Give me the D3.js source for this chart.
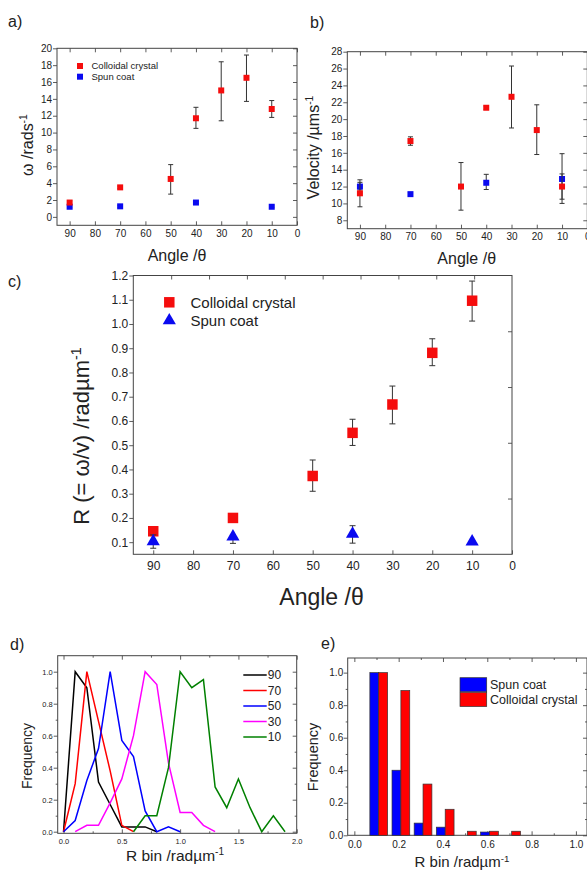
<!DOCTYPE html>
<html>
<head>
<meta charset="utf-8">
<script src="https://cdn.jsdelivr.net/npm/d3@7"></script>
<style>
  body { margin: 0; background: #fff; }
  text { font-family: "Liberation Sans", Arial, sans-serif; fill: #222; }
</style>
</head>
<body>
<svg id="fig"></svg>
<script>
// Angulos medidos (grados)
const anglesCC = [90, 70, 50, 40, 30, 20, 10];
const anglesSC = [90, 70, 40, 10];
const angleTicks = [90, 80, 70, 60, 50, 40, 30, 20, 10, 0];

// a) velocidad angular ω (rad/s)
const omegaCC = [1.7, 3.5, 4.5, 11.7, 15.0, 16.5, 12.8];
const omegaCCLow = [1.5, 3.35, 2.7, 10.5, 11.4, 13.7, 11.8];
const omegaCCHigh = [1.9, 3.65, 6.2, 13.0, 18.4, 19.2, 13.8];
const omegaSC = [1.2, 1.25, 1.7, 1.2];
const omegaSCLow = [1.1, 1.15, 1.6, 1.1];
const omegaSCHigh = [1.3, 1.35, 1.8, 1.3];
const omegaTicks = [0, 2, 4, 6, 8, 10, 12, 14, 16, 18, 20];

// b) velocidad (µm/s)
const velCC = [11.2, 17.4, 12.0, 21.35, 22.65, 18.7, 12.0];
const velCCLow = [9.6, 16.9, 9.2, 21.15, 18.95, 15.8, 10.0];
const velCCHigh = [12.8, 17.9, 14.85, 21.55, 26.3, 21.7, 13.5];
const velSC = [12.0, 11.1, 12.45, 12.9];
const velSCLow = [11.6, 10.9, 11.65, 10.5];
const velSCHigh = [12.5, 11.3, 13.45, 15.9];
const velTicks = [8, 10, 12, 14, 16, 18, 20, 22, 24, 26, 28];

// c) R = ω/v (rad/µm)
const rCC = [0.145, 0.2, 0.373, 0.551, 0.668, 0.881, 1.096];
const rCCLow = [0.135, 0.19, 0.31, 0.499, 0.588, 0.828, 1.012];
const rCCHigh = [0.155, 0.212, 0.439, 0.607, 0.744, 0.939, 1.177];
const rSC = [0.103, 0.123, 0.134, 0.102];
const rSCLow = [0.075, 0.095, 0.096, 0.098];
const rSCHigh = [0.13, 0.13, 0.168, 0.106];
const rTicks = [0.1, 0.2, 0.3, 0.4, 0.5, 0.6, 0.7, 0.8, 0.9, 1.0, 1.1, 1.2];
const cTopTicks = [90, 80, 70, 60, 50, 40, 30, 20, 10];
const cRightTicks = [0.2, 0.4, 0.6, 0.8];

// d) histogramas de R por angulo
const rBins = [0, 0.1, 0.2, 0.3, 0.4, 0.5, 0.6, 0.7, 0.8, 0.9, 1.0,
               1.1, 1.2, 1.3, 1.4, 1.5, 1.6, 1.7, 1.8, 1.9];
const freq90 = [0, 1.0, 0.9, 0.31, 0.17, 0.03, 0.03, 0.03, 0];
const freq70 = [0, 0.3, 1.0, 0.69, 0.38, 0.04, 0];
const freq50 = [0, 0.07, 0.32, 0.52, 1.0, 0.57, 0.47, 0.13, 0, 0.03, 0];
const freq30 = [null, 0, 0.04, 0.04, 0.18, 0.33, 0.6, 1.0, 0.92, 0.43, 0.12, 0.12, 0.04, 0];
const freq10 = [null, null, null, null, null, null, 0, 0.1, 0.1, 0.4, 1.0,
                0.9, 0.95, 0.28, 0.15, 0.33, 0.15, 0, 0.1, 0];
const dSeries = [
  { name: "90", values: freq90, color: "#000000" },
  { name: "70", values: freq70, color: "#ff0000" },
  { name: "50", values: freq50, color: "#0000ff" },
  { name: "30", values: freq30, color: "#ff00ff" },
  { name: "10", values: freq10, color: "#008000" }
];
const dXTicks = [0, 0.5, 1.0, 1.5, 2.0];
const freqTicks = [0, 0.2, 0.4, 0.6, 0.8, 1.0];

// e) histograma comparativo
const eBins = [0.1, 0.2, 0.3, 0.4, 0.5, 0.6, 0.7];
const freqSpun = [1.0, 0.4, 0.075, 0.05, 0, 0.02, 0];
const freqColloid = [1.0, 0.89, 0.315, 0.16, 0.025, 0.025, 0.025];
const eXTicks = [0, 0.2, 0.4, 0.6, 0.8, 1.0];

const svg = d3.select("#fig").attr("width", 587).attr("height", 871);
svg.append("rect").attr("width", 587).attr("height", 871).attr("fill", "#fff");

// Marco con ticks: izquierda hacia fuera, resto hacia dentro (estilo Origin)
function axes(x, y, o) {
  const [x0, x1] = x.range();
  const [y0, y1] = y.range();
  const g = svg.append("g").attr("color", "#333");

  const bottom = g.append("g").attr("transform", `translate(0,${y0})`)
    .call(d3.axisBottom(x).tickValues(o.xTicks).tickFormat(o.xFmt)
      .tickSize(-4).tickPadding(o.xPad));
  bottom.attr("font-size", o.fs);

  const left = g.append("g").attr("transform", `translate(${x0},0)`)
    .call(d3.axisLeft(y).tickValues(o.yTicks).tickFormat(o.yFmt)
      .tickSize(4).tickPadding(o.yPad));
  left.attr("font-size", o.fs);

  g.append("g").attr("transform", `translate(0,${y1})`)
    .call(d3.axisTop(o.topScale || x).tickValues(o.topTicks || o.xTicks)
      .tickFormat("").tickSize(-4));
  g.append("g").attr("transform", `translate(${x1},0)`)
    .call(d3.axisRight(o.rightScale || y).tickValues(o.rightTicks || o.yTicks)
      .tickFormat("").tickSize(-4));

  if (o.xMinor) {
    g.append("g").attr("transform", `translate(0,${y0})`)
      .call(d3.axisBottom(x).tickValues(o.xMinor).tickFormat("").tickSize(-2));
    g.append("g").attr("transform", `translate(0,${y1})`)
      .call(d3.axisTop(x).tickValues(o.xMinor).tickFormat("").tickSize(-2));
  }
  if (o.yMinor) {
    g.append("g").attr("transform", `translate(${x0},0)`)
      .call(d3.axisLeft(y).tickValues(o.yMinor).tickFormat("").tickSize(2));
    g.append("g").attr("transform", `translate(${x1},0)`)
      .call(d3.axisRight(y).tickValues(o.yMinor).tickFormat("").tickSize(-2));
  }
  g.selectAll(".domain").remove();
  g.selectAll(".tick line").attr("stroke-width", 0.8);

  svg.append("rect")
    .attr("x", x0).attr("y", y1)
    .attr("width", x1 - x0).attr("height", y0 - y1)
    .attr("fill", "none").attr("stroke", "#444").attr("stroke-width", 1);
}

// Texto con superindice final
function label(x, y, size, main, sup, rotate) {
  const t = svg.append("text")
    .attr("transform", `translate(${x},${y})` + (rotate ? " rotate(-90)" : ""))
    .attr("text-anchor", "middle")
    .style("font-size", size + "px");
  t.append("tspan").text(main);
  if (sup) t.append("tspan").attr("dy", "-0.55em").style("font-size", "0.65em").text(sup);
  return t;
}

function panelTag(x, y, txt) {
  svg.append("text").attr("x", x).attr("y", y).style("font-size", "16px").text(txt);
}

// Puntos con barras de error
function errPoints(x, y, xs, vals, lows, highs, o) {
  const pts = xs.map((a, i) => ({ a, v: vals[i], lo: lows[i], hi: highs[i] }));
  const eb = svg.append("g").attr("stroke", "#333").attr("stroke-width", 1)
    .selectAll("g").data(pts).join("g");
  eb.append("line")
    .attr("x1", d => x(d.a)).attr("x2", d => x(d.a))
    .attr("y1", d => y(d.lo)).attr("y2", d => y(d.hi));
  eb.append("line")
    .attr("x1", d => x(d.a) - o.cap).attr("x2", d => x(d.a) + o.cap)
    .attr("y1", d => y(d.lo)).attr("y2", d => y(d.lo));
  eb.append("line")
    .attr("x1", d => x(d.a) - o.cap).attr("x2", d => x(d.a) + o.cap)
    .attr("y1", d => y(d.hi)).attr("y2", d => y(d.hi));
  svg.append("g").selectAll("path").data(pts).join("path")
    .attr("d", d3.symbol(o.shape, o.size))
    .attr("transform", d => `translate(${x(d.a)},${y(d.v)})`)
    .attr("fill", o.color);
}

const red = "#f50d0d";
const blue = "#0a0af0";

// ---------- a) ----------
const xA = d3.scaleLinear().domain([95, 0]).range([57, 297]);
const yA = d3.scaleLinear().domain([-1, 20]).range([225.3, 48.3]);
axes(xA, yA, { xTicks: angleTicks, yTicks: omegaTicks, fs: 10, xPad: 4.5, yPad: 1,
  xFmt: d3.format("d"), yFmt: d3.format("d") });
errPoints(xA, yA, anglesSC, omegaSC, omegaSCLow, omegaSCHigh,
  { color: blue, shape: d3.symbolSquare, size: 36, cap: 2.5 });
errPoints(xA, yA, anglesCC, omegaCC, omegaCCLow, omegaCCHigh,
  { color: red, shape: d3.symbolSquare, size: 36, cap: 2.5 });
svg.append("rect").attr("x", 77).attr("y", 63).attr("width", 6).attr("height", 6).attr("fill", red);
svg.append("rect").attr("x", 77).attr("y", 73.7).attr("width", 6).attr("height", 6).attr("fill", blue);
svg.append("text").attr("x", 91.5).attr("y", 69).style("font-size", "9.5px").text("Colloidal crystal");
svg.append("text").attr("x", 91.5).attr("y", 79.5).style("font-size", "9.5px").text("Spun coat");
label(177, 261, 16, "Angle /θ");
label(32.5, 145, 16, "ω /rads", "-1", true);
panelTag(8, 27, "a)");

// ---------- b) ----------
const xB = d3.scaleLinear().domain([95, 0]).range([347.3, 587.3]);
const yB = d3.scaleLinear().domain([7, 28]).range([228.7, 51.7]);
axes(xB, yB, { xTicks: angleTicks, yTicks: velTicks, fs: 10, xPad: 4.5, yPad: 1,
  xFmt: d3.format("d"), yFmt: d3.format("d") });
errPoints(xB, yB, anglesSC, velSC, velSCLow, velSCHigh,
  { color: blue, shape: d3.symbolSquare, size: 36, cap: 2.5 });
errPoints(xB, yB, anglesCC, velCC, velCCLow, velCCHigh,
  { color: red, shape: d3.symbolSquare, size: 36, cap: 2.5 });
label(466.7, 264, 16, "Angle /θ");
label(319, 147.5, 16, "Velocity /µms", "-1", true);
panelTag(310, 28, "b)");

// ---------- c) ----------
const xC = d3.scaleLinear().domain([95, 0]).range([133.3, 512]);
const yC = d3.scaleLinear().domain([0.05, 1.2]).range([554.3, 275.5]);
axes(xC, yC, { xTicks: angleTicks, yTicks: rTicks, fs: 12, xPad: 7, yPad: 1,
  xFmt: d3.format("d"), yFmt: d3.format(".1f"),
  topScale: d3.scaleLinear().domain([100, 0]).range([133.3, 512]), topTicks: cTopTicks,
  rightScale: d3.scaleLinear().domain([0, 1]).range([554.3, 275.5]), rightTicks: cRightTicks });
errPoints(xC, yC, anglesCC, rCC, rCCLow, rCCHigh,
  { color: red, shape: d3.symbolSquare, size: 110, cap: 3 });
errPoints(xC, yC, anglesSC, rSC, rSCLow, rSCHigh,
  { color: blue, shape: d3.symbolTriangle, size: 75, cap: 3 });
svg.append("path").attr("d", d3.symbol(d3.symbolSquare, 110))
  .attr("transform", "translate(169.3,302.3)").attr("fill", red);
svg.append("path").attr("d", d3.symbol(d3.symbolTriangle, 75))
  .attr("transform", "translate(169.3,320.5)").attr("fill", blue);
svg.append("text").attr("x", 190.5).attr("y", 307.5).style("font-size", "15px").text("Colloidal crystal");
svg.append("text").attr("x", 190.5).attr("y", 325.5).style("font-size", "15px").text("Spun coat");
label(321.5, 605, 23, "Angle /θ");
label(89, 436, 22, "R (= ω/v) /radµm", "-1", true);
panelTag(8, 287, "c)");

// ---------- d) ----------
const xD = d3.scaleLinear().domain([-0.05, 2.0]).range([57.7, 296.7]);
const yD = d3.scaleLinear().domain([-0.01, 1.1]).range([833.3, 655.7]);
axes(xD, yD, { xTicks: dXTicks, yTicks: freqTicks, fs: 7.5, xPad: 5, yPad: 1,
  xFmt: d3.format(".1f"), yFmt: d3.format(".1f"),
  xMinor: [0.25, 0.75, 1.25, 1.75], yMinor: [0.1, 0.3, 0.5, 0.7, 0.9] });
const lineD = d3.line()
  .defined(d => d[1] != null)
  .x(d => xD(d[0])).y(d => yD(d[1]));
svg.append("g").selectAll("path").data(dSeries).join("path")
  .attr("d", s => lineD(s.values.map((v, i) => [rBins[i], v])))
  .attr("fill", "none").attr("stroke", s => s.color).attr("stroke-width", 1.5);
const legD = svg.append("g").selectAll("g").data(dSeries).join("g")
  .attr("transform", (s, i) => `translate(243.3,${675 + i * 15.5})`);
legD.append("line").attr("x1", 0).attr("x2", 23.4)
  .attr("stroke", s => s.color).attr("stroke-width", 1.5);
legD.append("text").attr("x", 24.5).attr("y", 4.3).style("font-size", "12px").text(s => s.name);
label(175, 861, 15.5, "R bin /radµm", "-1");
label(32, 756, 14, "Frequency", null, true);
panelTag(10, 650, "d)");

// ---------- e) ----------
const xE = d3.scaleLinear().domain([-0.03, 1.05]).range([347.7, 587]);
const yE = d3.scaleLinear().domain([0, 1.09]).range([835.3, 658]);
axes(xE, yE, { xTicks: eXTicks, yTicks: freqTicks, fs: 10, xPad: 5.6, yPad: 0.5,
  xFmt: d3.format(".1f"), yFmt: d3.format(".1f"),
  xMinor: [0.1, 0.3, 0.5, 0.7, 0.9], yMinor: [0.1, 0.3, 0.5, 0.7, 0.9] });
const barW = 0.04;    // ancho de cada barra en unidades de R
const barShift = 0.01; // desplazamiento del grupo respecto al centro del bin
const eData = eBins.map((b, i) => ({ b, spun: freqSpun[i], cc: freqColloid[i] }));
svg.append("g").selectAll("rect").data(eData.filter(d => d.spun > 0)).join("rect")
  .attr("x", d => xE(d.b + barShift - barW))
  .attr("width", d => xE(d.b + barShift) - xE(d.b + barShift - barW))
  .attr("y", d => yE(d.spun)).attr("height", d => yE(0) - yE(d.spun))
  .attr("fill", "#0000ff").attr("stroke", "#333").attr("stroke-width", 0.7);
svg.append("g").selectAll("rect").data(eData.filter(d => d.cc > 0)).join("rect")
  .attr("x", d => xE(d.b + barShift))
  .attr("width", d => xE(d.b + barShift + barW) - xE(d.b + barShift))
  .attr("y", d => yE(d.cc)).attr("height", d => yE(0) - yE(d.cc))
  .attr("fill", "#ff0000").attr("stroke", "#333").attr("stroke-width", 0.7);
svg.append("rect").attr("x", 460).attr("y", 677.7).attr("width", 26.7).attr("height", 14)
  .attr("fill", "#0000ff").attr("stroke", "#333").attr("stroke-width", 0.7);
svg.append("rect").attr("x", 460).attr("y", 692.5).attr("width", 26.7).attr("height", 14)
  .attr("fill", "#ff0000").attr("stroke", "#333").attr("stroke-width", 0.7);
svg.append("text").attr("x", 490).attr("y", 689).style("font-size", "12.5px").text("Spun coat");
svg.append("text").attr("x", 490).attr("y", 704).style("font-size", "12.5px").text("Colloidal crystal");
label(462, 867, 15, "R bin /radµm", "-1");
label(318, 757, 14.5, "Frequency", null, true);
panelTag(321, 649, "e)");
</script>
</body>
</html>
